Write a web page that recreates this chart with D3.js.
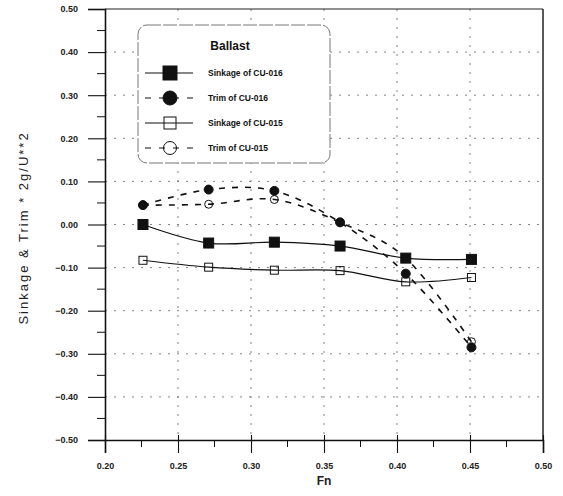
<!DOCTYPE html>
<html>
<head>
<meta charset="utf-8">
<script src="https://cdn.jsdelivr.net/npm/d3@7"></script>
<style>
  html, body { margin: 0; padding: 0; background: #fff; }
  svg { display: block; font-family: "Liberation Sans", Arial, sans-serif; }
</style>
</head>
<body>
<svg id="chart" width="563" height="496"></svg>
<script>
// ---- data ----
const fn = [0.226, 0.271, 0.316, 0.361, 0.406, 0.451];
const sinkage016 = [0.000, -0.043, -0.041, -0.050, -0.078, -0.081];
const trim016    = [0.045, 0.081, 0.078, 0.005, -0.114, -0.285];
const sinkage015 = [-0.083, -0.099, -0.106, -0.107, -0.133, -0.123];
const trim015    = [0.045, 0.047, 0.058, 0.005, -0.078, -0.272];
const xTicks = [0.20, 0.25, 0.30, 0.35, 0.40, 0.45, 0.50];
const yTicks = [0.50, 0.40, 0.30, 0.20, 0.10, 0.00, -0.10, -0.20, -0.30, -0.40, -0.50];
const seriesNames = ["Sinkage of CU-016", "Trim of CU-016", "Sinkage of CU-015", "Trim of CU-015"];
const legendTitle = "Ballast";
const xTitle = "Fn";
const yTitle = "Sinkage & Trim * 2g/U**2";

// ---- layout ----
const svg = d3.select("#chart");
const L = 105, R = 543, T = 9, B = 440;
const x = d3.scaleLinear().domain([0.20, 0.50]).range([L, R]);
const y = d3.scaleLinear().domain([-0.50, 0.50]).range([B, T]);

// gridlines
const grid = svg.append("g").attr("stroke", "#666").attr("stroke-width", 0.8)
  .attr("stroke-dasharray", "2,7");
grid.selectAll(".gx").data(xTicks.slice(1, -1)).join("line")
  .attr("x1", d => x(d)).attr("x2", d => x(d)).attr("y1", T).attr("y2", B);
grid.selectAll(".gy").data(yTicks.slice(1, -1)).join("line")
  .attr("y1", d => y(d)).attr("y2", d => y(d)).attr("x1", L).attr("x2", R);

// frame
svg.append("line").attr("x1", L).attr("x2", R).attr("y1", T).attr("y2", T).attr("stroke", "#222").attr("stroke-width", 1.2);
svg.append("line").attr("x1", R).attr("x2", R).attr("y1", T).attr("y2", B).attr("stroke", "#222").attr("stroke-width", 1.5);

// left axis
const yAxis = d3.axisLeft(y).tickValues(yTicks).tickSize(17).tickPadding(10)
  .tickFormat(d3.format(".2f"));
const gy = svg.append("g").attr("transform", `translate(${L},0)`).call(yAxis);
gy.select(".domain").attr("stroke", "#111").attr("stroke-width", 1.6);
gy.selectAll(".tick line").attr("stroke", "#111").attr("stroke-width", 1.1);
gy.selectAll(".tick text").attr("font-size", 9).attr("font-weight", "bold").attr("fill", "#222");
const yMinor = d3.range(-0.45, 0.5, 0.1);
svg.append("g").selectAll("line").data(yMinor).join("line")
  .attr("x1", L - 8).attr("x2", L).attr("y1", d => y(d)).attr("y2", d => y(d))
  .attr("stroke", "#111").attr("stroke-width", 1);

// bottom axis
const xAxis = d3.axisBottom(x).tickValues(xTicks).tickSize(13).tickPadding(10)
  .tickFormat(d3.format(".2f"));
const gx = svg.append("g").attr("transform", `translate(0,${B})`).call(xAxis);
gx.select(".domain").attr("stroke", "#111").attr("stroke-width", 1.6);
gx.selectAll(".tick line").attr("stroke", "#111").attr("stroke-width", 1.1).attr("y1", -5);
gx.selectAll(".tick text").attr("font-size", 9).attr("font-weight", "bold").attr("fill", "#222");
const xMinor = d3.range(0.225, 0.5, 0.05);
svg.append("g").selectAll("line").data(xMinor).join("line")
  .attr("x1", d => x(d)).attr("x2", d => x(d)).attr("y1", B).attr("y2", B + 7)
  .attr("stroke", "#111").attr("stroke-width", 1);

// titles
svg.append("text").attr("x", x(0.35)).attr("y", 485).attr("text-anchor", "middle")
  .attr("font-size", 12).attr("font-weight", "bold").attr("fill", "#222").text(xTitle);
svg.append("text").attr("transform", `translate(28,228) rotate(-90)`).attr("text-anchor", "middle")
  .attr("font-size", 13).attr("letter-spacing", 2).attr("fill", "#222").text(yTitle);

// lines
const series = [
  { name: seriesNames[0], vals: sinkage016, dash: null, marker: "square", filled: true },
  { name: seriesNames[1], vals: trim016, dash: "6,7", marker: "circle", filled: true },
  { name: seriesNames[2], vals: sinkage015, dash: null, marker: "square", filled: false },
  { name: seriesNames[3], vals: trim015, dash: "6,7", marker: "circle", filled: false },
];
const line = d3.line().x(d => x(d[0])).y(d => y(d[1])).curve(d3.curveCatmullRom.alpha(0));
series.forEach(s => {
  svg.append("path").datum(fn.map((f, i) => [f, s.vals[i]]))
    .attr("d", line).attr("fill", "none").attr("stroke", "#111")
    .attr("stroke-width", s.dash ? 1.6 : 1.2)
    .attr("stroke-dasharray", s.dash);
});
function drawMarker(g, s, cx, cy, big) {
  if (s.marker === "square") {
    const sz = s.filled ? (big ? 14 : 10) : (big ? 12 : 8);
    g.append("rect").attr("x", cx - sz / 2).attr("y", cy - sz / 2).attr("width", sz).attr("height", sz)
      .attr("fill", s.filled ? "#111" : "none").attr("stroke", "#111").attr("stroke-width", 1);
  } else {
    const r = s.filled ? (big ? 7 : 4.5) : (big ? 6.5 : 4);
    g.append("circle").attr("cx", cx).attr("cy", cy).attr("r", r)
      .attr("fill", s.filled ? "#111" : "none").attr("stroke", "#111").attr("stroke-width", 1);
  }
}
series.forEach(s => {
  const g = svg.append("g");
  fn.forEach((f, i) => drawMarker(g, s, x(f), y(s.vals[i]), false));
});

// legend
const lg = svg.append("g");
lg.append("rect").attr("x", 138).attr("y", 25).attr("width", 192).attr("height", 138)
  .attr("rx", 9).attr("fill", "#fff").attr("stroke", "#777").attr("stroke-width", 1)
  .attr("stroke-dasharray", "14,2");
lg.append("text").attr("x", 230).attr("y", 50).attr("text-anchor", "middle")
  .attr("font-size", 12).attr("font-weight", "bold").attr("fill", "#111").text(legendTitle);
series.forEach((s, i) => {
  const cy = 73 + i * 25;
  lg.append("line").attr("x1", 145).attr("x2", 193).attr("y1", cy).attr("y2", cy)
    .attr("stroke", "#111").attr("stroke-width", 1.2)
    .attr("stroke-dasharray", s.dash ? "6,8" : null);
  drawMarker(lg, s, 170, cy, true);
  lg.append("text").attr("x", 208).attr("y", cy + 3).attr("font-size", 8.5)
    .attr("font-weight", "bold").attr("fill", "#111").text(s.name);
});
</script>
</body>
</html>
